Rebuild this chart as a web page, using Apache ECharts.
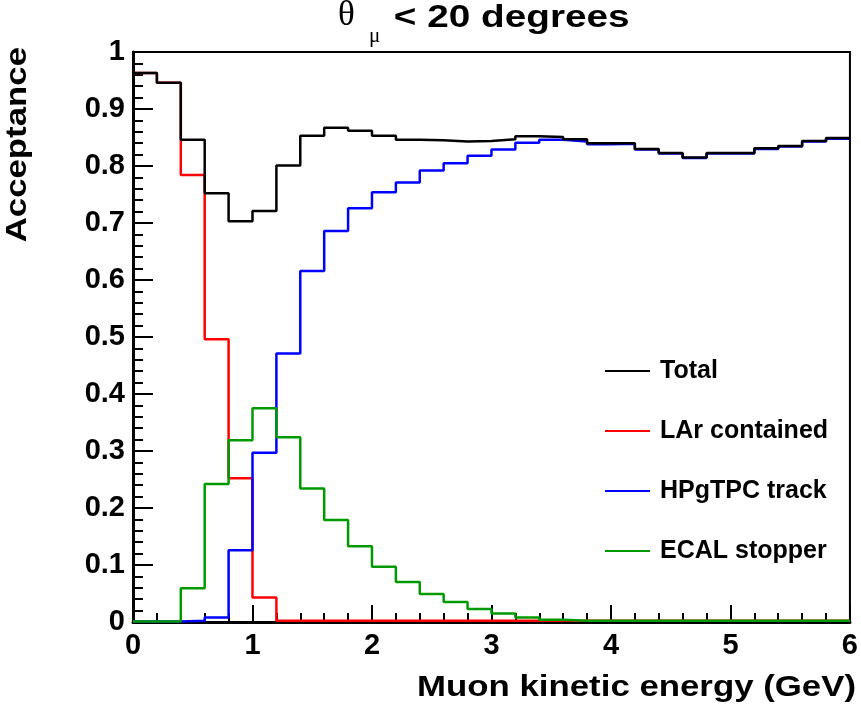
<!DOCTYPE html>
<html><head><meta charset="utf-8">
<script src="https://cdn.jsdelivr.net/npm/echarts@6/dist/echarts.min.js"></script>
<style>html,body{margin:0;padding:0;background:#fff}#c{width:861px;height:709px}</style>
</head><body><div id="c"></div>
<script>
// Bin edges (GeV), 30 bins of 0.2 GeV
const binEdges = [0,0.2,0.4,0.6,0.8,1.0,1.2,1.4,1.6,1.8,2.0,2.2,2.4,2.6,2.8,3.0,3.2,3.4,3.6,3.8,4.0,4.2,4.4,4.6,4.8,5.0,5.2,5.4,5.6,5.8,6.0];
const total        = [0.963,0.946,0.846,0.752,0.703,0.721,0.801,0.853,0.867,0.862,0.853,0.846,0.845,0.843,0.844,0.847,0.852,0.851,0.847,0.840,0.840,0.830,0.823,0.815,0.823,0.823,0.831,0.835,0.844,0.849];
const larContained = [0.963,0.946,0.784,0.496,0.252,0.043,0.002,0.002,0.002,0.002,0.002,0.002,0.002,0.002,0.002,0.002,0.002,0.002,0.002,0.002,0.002,0.002,0.002,0.002,0.002,0.002,0.002,0.002,0.002,0.002];
const hpgtpcTrack  = [0.001,0.001,0.002,0.008,0.126,0.297,0.471,0.616,0.686,0.726,0.754,0.771,0.792,0.805,0.818,0.829,0.841,0.846,0.843,0.838,0.839,0.829,0.822,0.814,0.822,0.822,0.830,0.834,0.843,0.848];
const ecalStopper  = [0.001,0.001,0.059,0.242,0.319,0.375,0.324,0.234,0.179,0.133,0.097,0.070,0.049,0.035,0.023,0.015,0.008,0.004,0.002,0.002,0.002,0.002,0.002,0.002,0.002,0.002,0.002,0.002,0.002,0.002];
const seriesNames = ['Total','LAr contained','HPgTPC track','ECAL stopper'];
const titleMain = ' < 20 degrees';
const xTitle = 'Muon kinetic energy (GeV)';
const yTitle = 'Acceptance';

function hist(vals){
  const d = vals.map((v,i)=>[binEdges[i], v]);
  d.push([binEdges[vals.length], vals[vals.length-1]]);
  return d;
}
const FONT = '"Liberation Sans", Arial, Helvetica, sans-serif';
const chart = echarts.init(document.getElementById('c'), null, {renderer:'canvas'});
function mk(name, vals, color, z){
  return {name, type:'line', step:'end', data:hist(vals), showSymbol:false, symbol:'none',
    lineStyle:{color, width:2.5}, itemStyle:{color}, z, animation:false, clip:true};
}
chart.setOption({
  animation:false,
  backgroundColor:'#ffffff',
  grid:{left:133, right:8, top:52, bottom:87, show:true, borderColor:'#000', borderWidth:2, backgroundColor:'transparent'},
  xAxis:{type:'value', min:0, max:6, interval:1,
    axisLine:{show:true, onZero:false, lineStyle:{color:'#000', width:3}},
    axisTick:{show:true, inside:true, length:17, lineStyle:{color:'#000', width:2}},
    minorTick:{show:true, splitNumber:5, length:9, lineStyle:{color:'#000', width:2}},
    splitLine:{show:false}, minorSplitLine:{show:false},
    axisLabel:{color:'#000', fontFamily:FONT, fontWeight:'bold', fontSize:29, margin:9}
  },
  yAxis:{type:'value', min:0, max:1, interval:0.1,
    axisLine:{show:true, lineStyle:{color:'#000', width:3}},
    axisTick:{show:true, inside:true, length:20, lineStyle:{color:'#000', width:2}},
    minorTick:{show:true, splitNumber:5, length:10, lineStyle:{color:'#000', width:2}},
    splitLine:{show:false}, minorSplitLine:{show:false},
    axisLabel:{color:'#000', fontFamily:FONT, fontWeight:'bold', fontSize:29, margin:8}
  },
  legend:{orient:'vertical', left:605, top:356, padding:0, itemGap:30, itemWidth:45, itemHeight:2, icon:'rect',
    data:seriesNames,
    textStyle:{color:'#000', fontFamily:FONT, fontWeight:'bold', fontSize:25, lineHeight:30, padding:[0,0,0,5]}
  },
  series:[
    mk(seriesNames[1], larContained, '#ff0000', 2),
    mk(seriesNames[2], hpgtpcTrack, '#0000ff', 3),
    mk(seriesNames[3], ecalStopper, '#009a00', 4),
    mk(seriesNames[0], total, '#000000', 5)
  ],
  graphic:[
    {type:'text', x:338, y:16, style:{text:'θ', font:'normal 35px "Liberation Serif", serif', fill:'#000', textAlign:'left', textVerticalAlign:'middle'}},
    {type:'text', x:369, y:36, style:{text:'μ', font:'normal 21px "Liberation Serif", serif', fill:'#000', textAlign:'left', textVerticalAlign:'middle'}},
    {type:'text', x:383, y:18, scaleX:1.25, style:{text:titleMain, font:'bold 31px '+FONT, fill:'#000', textAlign:'left', textVerticalAlign:'middle'}},
    {type:'text', x:856, y:688, scaleX:1.16, style:{text:xTitle, font:'bold 30px '+FONT, fill:'#000', textAlign:'right', textVerticalAlign:'middle'}},
    {type:'text', x:18, y:47, rotation:Math.PI/2, scaleX:1.16, style:{text:yTitle, font:'bold 30px '+FONT, fill:'#000', textAlign:'right', textVerticalAlign:'middle'}}
  ]
});
</script></body></html>
